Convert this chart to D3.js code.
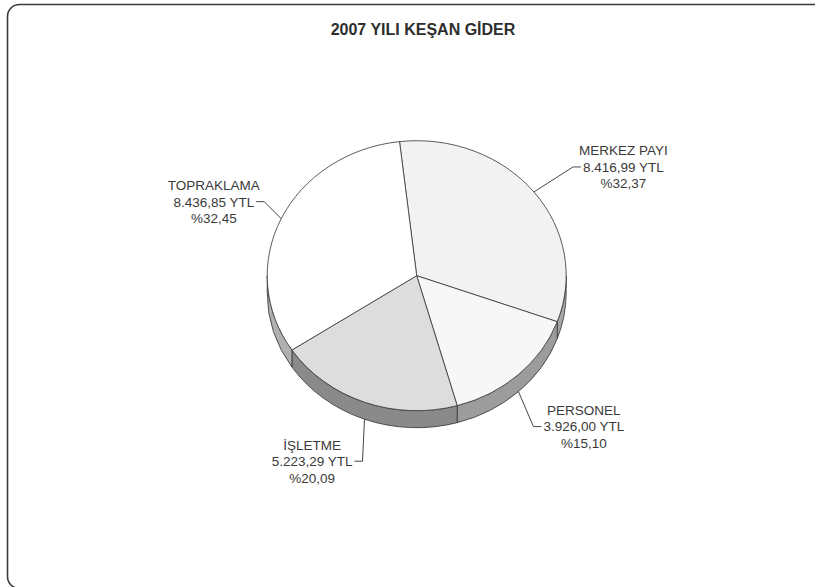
<!DOCTYPE html>
<html>
<head>
<meta charset="utf-8">
<script src="https://cdn.jsdelivr.net/npm/d3@7"></script>
<style>
  html, body { margin: 0; padding: 0; background: #fff; }
  svg { display: block; font-family: "Liberation Sans", Arial, sans-serif; }
</style>
</head>
<body>
<svg id="chart" width="815" height="587"></svg>
<script>
// chart data
var title = "2007 YILI KEŞAN GİDER";
var categories = ["MERKEZ PAYI", "PERSONEL", "İŞLETME", "TOPRAKLAMA"];
var values = [8416.99, 3926.00, 5223.29, 8436.85];
var unit = "YTL";

// look
var topColors = ["#f2f2f2", "#f7f7f7", "#dddddd", "#ffffff"];
var sideColors = ["#a6a6a6", "#9c9c9c", "#8a8a8a", "#b0b0b0"];
// where each label's elbow sits relative to its anchor on the pie
var labelOffsets = [[39, -25], [15, 35], [-2, 42], [-17, -17]];

var cx = 416.7, cy = 275.7, rx = 149.5, ry = 135, depth = 17;
var startAngle = -6.6 * Math.PI / 180;

var svg = d3.select("#chart");

// rounded frame, partly cut off at right/bottom like the original
svg.append("rect")
    .attr("x", 7.5).attr("y", 4.5)
    .attr("width", 880).attr("height", 584)
    .attr("rx", 12).attr("ry", 12)
    .attr("fill", "none")
    .attr("stroke", "#3a3a3a")
    .attr("stroke-width", 1.6);

svg.append("text")
    .attr("x", 423).attr("y", 35)
    .attr("text-anchor", "middle")
    .attr("font-weight", "bold")
    .attr("font-size", 16)
    .attr("fill", "#2e2e2e")
    .text(title);

var locale = d3.formatLocale({decimal: ",", thousands: ".", grouping: [3], currency: ["", ""]});
var fmtValue = locale.format(",.2f");
var total = d3.sum(values);

var arcs = d3.pie().sort(null)
    .startAngle(startAngle)
    .endAngle(startAngle + 2 * Math.PI)(values);

function pt(a, dy) {
    return [cx + rx * Math.sin(a), cy - ry * Math.cos(a) + (dy || 0)];
}

var g = svg.append("g");

// sides (front half only)
arcs.forEach(function (d, i) {
    var s0 = Math.max(d.startAngle, Math.PI / 2);
    var s1 = Math.min(d.endAngle, 3 * Math.PI / 2);
    if (s1 <= s0) return;
    var p0 = pt(s0), p1 = pt(s1), q1 = pt(s1, depth), q0 = pt(s0, depth);
    var path = "M" + p0 + "A" + rx + "," + ry + " 0 0 1 " + p1 +
        "L" + q1 + "A" + rx + "," + ry + " 0 0 0 " + q0 + "Z";
    g.append("path")
        .attr("d", path)
        .attr("fill", sideColors[i])
        .attr("stroke", "#333")
        .attr("stroke-width", 0.8)
        .attr("stroke-linejoin", "round");
});

// top faces
arcs.forEach(function (d, i) {
    var p0 = pt(d.startAngle), p1 = pt(d.endAngle);
    var large = (d.endAngle - d.startAngle) > Math.PI ? 1 : 0;
    var path = "M" + cx + "," + cy + "L" + p0 +
        "A" + rx + "," + ry + " 0 " + large + " 1 " + p1 + "Z";
    g.append("path")
        .attr("d", path)
        .attr("fill", topColors[i])
        .attr("stroke", "#333")
        .attr("stroke-width", 0.8)
        .attr("stroke-linejoin", "round");
});

// labels with leader lines
var lineGap = 16.5;
arcs.forEach(function (d, i) {
    var mid = (d.startAngle + d.endAngle) / 2;
    var m = ((mid % (2 * Math.PI)) + 2 * Math.PI) % (2 * Math.PI);
    var front = m > Math.PI / 2 && m < 3 * Math.PI / 2;
    var anchor = pt(mid, front ? depth : 0);
    var elbow = [anchor[0] + labelOffsets[i][0], anchor[1] + labelOffsets[i][1]];
    var side = labelOffsets[i][0] >= 0 ? 1 : -1;
    var end = [elbow[0] + side * 8, elbow[1]];

    svg.append("path")
        .attr("d", "M" + anchor + "L" + elbow + "L" + end)
        .attr("fill", "none")
        .attr("stroke", "#333")
        .attr("stroke-width", 0.9);

    var lines = [
        categories[i],
        fmtValue(values[i]) + " " + unit,
        "%" + locale.format(".2f")(values[i] / total * 100)
    ];
    var t = svg.append("text")
        .attr("font-size", 13.5)
        .attr("fill", "#3a3a3a")
        .attr("text-anchor", "middle");
    var spans = t.selectAll("tspan").data(lines).enter().append("tspan")
        .attr("y", function (s, k) { return elbow[1] + (k - 1) * lineGap; })
        .attr("dy", "0.36em")
        .text(function (s) { return s; });
    var wMid = spans.nodes()[1].getComputedTextLength();
    var cxText = end[0] + side * (2 + wMid / 2);
    spans.attr("x", cxText);
});
</script>
</body>
</html>
